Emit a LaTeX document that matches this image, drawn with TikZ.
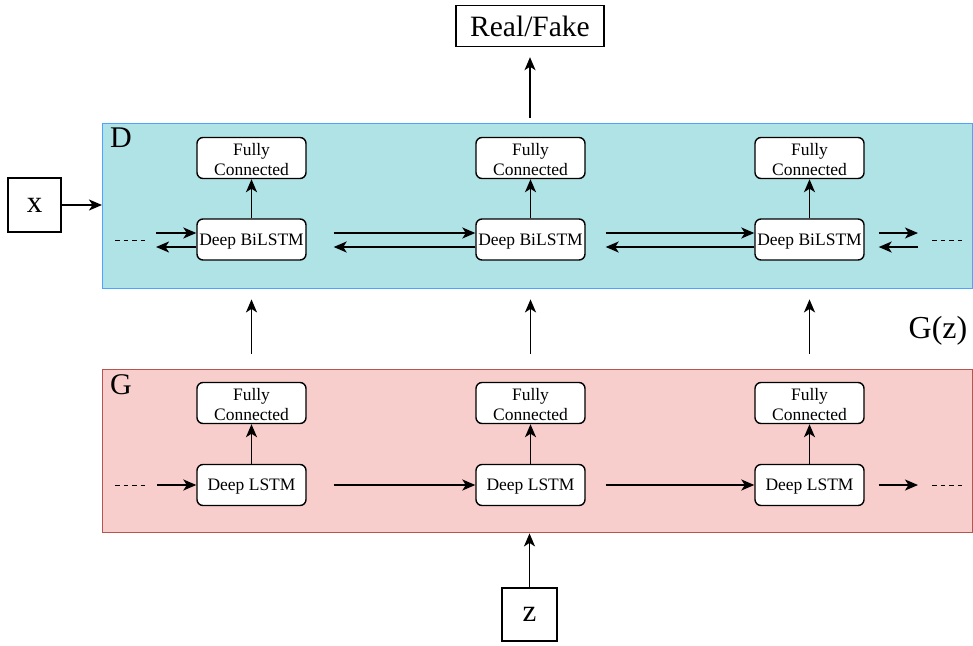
\documentclass[tikz,border=0pt]{standalone}
\usepackage{fontspec}
\setmainfont{Liberation Serif}
\usetikzlibrary{arrows.meta}
\definecolor{dfill}{HTML}{B0E3E6}
\definecolor{ddraw}{HTML}{4DA3FF}
\definecolor{gfill}{HTML}{F8CECC}
\definecolor{gdraw}{HTML}{B85450}
\begin{document}
\begin{tikzpicture}[x=1pt,y=-1pt,
  arr/.style={line width=1.8pt,-{Stealth[length=13pt,width=11pt,inset=3.5pt]}},
  inner/.style={draw,line width=1.4pt,fill=white,rounded corners=6pt,minimum width=109pt,minimum height=41pt,inner sep=1pt},
  innertext/.style={inner sep=0pt,align=center,font=\fontsize{17.5}{20}\selectfont,yshift=-2pt},
  plainbox/.style={draw,line width=1.4pt,fill=white,inner sep=0pt},
  dots/.style={line width=1pt,dash pattern=on 4.5pt off 4pt},
  biglabel/.style={font=\fontsize{30}{30}\selectfont,inner sep=0pt}]
\useasboundingbox (0,0) rectangle (973,645);
% containers
\node[draw=ddraw,fill=dfill,line width=1.4pt,minimum width=870pt,minimum height=165pt,inner sep=0pt,anchor=north west] (D) at (102,123) {};
\node[draw=gdraw,fill=gfill,line width=1.4pt,minimum width=870pt,minimum height=163pt,inner sep=0pt,anchor=north west] (G) at (102,369) {};
\node[biglabel,anchor=west] (Dl) at (110,138) {D};
\node[biglabel,anchor=west] (Gl) at (110,385) {G};
\node[biglabel,font=\fontsize{32}{32}\selectfont] (Gz) at (938,331) {G(z)};
% top/bottom/side
\node[plainbox,minimum width=148pt,minimum height=41pt,font=\fontsize{29.5}{29.5}\selectfont] (RF) at (530,26) {Real/Fake};
\node[plainbox,minimum width=53pt,minimum height=54pt,font=\fontsize{31}{31}\selectfont] (X) at (34.5,205) {x};
\node[plainbox,minimum width=55pt,minimum height=53pt,font=\fontsize{31}{31}\selectfont] (Z) at (529.5,614.5) {z};
% rows
\foreach \i/\cx in {1/251.5,2/530.5,3/809.5}{
  \node[inner,label={[innertext,name=dfct\i]center:Fully\\Connected}] (dfc\i) at (\cx,158) {};
  \node[inner,label={[innertext,name=dblt\i]center:Deep BiLSTM}] (dbl\i) at (\cx,239.5) {};
  \draw[arr] (dbl\i) -- (dfc\i);
  \node[inner,label={[innertext,name=gfct\i]center:Fully\\Connected}] (gfc\i) at (\cx,403) {};
  \node[inner,label={[innertext,name=glt\i]center:Deep LSTM}] (gl\i) at (\cx,485) {};
  \draw[arr] (gl\i) -- (gfc\i);
  \draw[arr,shorten <=28pt,shorten >=10pt] (gfc\i.north) -- (gfc\i.north |- D.south);
}
% D horizontal arrows
\draw[arr] ([yshift=6.5pt,xshift=27pt]dbl1.east) -- ([yshift=6.5pt]dbl2.west);
\draw[arr] ([yshift=-7.5pt]dbl2.west) -- ([yshift=-7.5pt,xshift=27pt]dbl1.east);
\draw[arr] ([yshift=6.5pt,xshift=20pt]dbl2.east) -- ([yshift=6.5pt]dbl3.west);
\draw[arr] ([yshift=-7.5pt]dbl3.west) -- ([yshift=-7.5pt,xshift=20pt]dbl2.east);
\coordinate (dl1) at (156,233);
\coordinate (dl2) at (156,247);
\draw[arr] (dl1) -- (dl1 -| dbl1.west);
\draw[arr] (dl2 -| dbl1.west) -- (dl2);
\coordinate (dr1) at (918,233);
\coordinate (dr2) at (918,247);
\draw[arr] ([xshift=14pt]dr1 -| dbl3.east) -- (dr1);
\draw[arr] (dr2) -- ([xshift=14pt]dr2 -| dbl3.east);
\coordinate (dd1a) at (115,240); \coordinate (dd1b) at (147,240);
\draw[dots] (dd1a) -- (dd1b);
\coordinate (dd2a) at (932,240); \coordinate (dd2b) at (962,240);
\draw[dots] (dd2a) -- (dd2b);
% G horizontal arrows
\coordinate (gl0) at (157,485);
\draw[arr] (gl0) -- (gl1);
\draw[arr,shorten <=27pt] (gl1) -- (gl2);
\draw[arr,shorten <=20pt] (gl2) -- (gl3);
\coordinate (gr0) at (918,485);
\draw[arr,shorten <=14pt] (gl3) -- (gr0);
\coordinate (gd1a) at (115,485); \coordinate (gd1b) at (147,485);
\draw[dots] (gd1a) -- (gd1b);
\coordinate (gd2a) at (932,485); \coordinate (gd2b) at (962,485);
\draw[dots] (gd2a) -- (gd2b);
% io arrows
\draw[arr,shorten <=5pt,shorten >=10pt] (D.north -| RF.south) -- (RF.south);
\draw[arr] (X.east) -- (X.east -| D.west);
\draw[arr] (Z.north) -- (Z.north |- G.south);
\end{tikzpicture}
\end{document}
